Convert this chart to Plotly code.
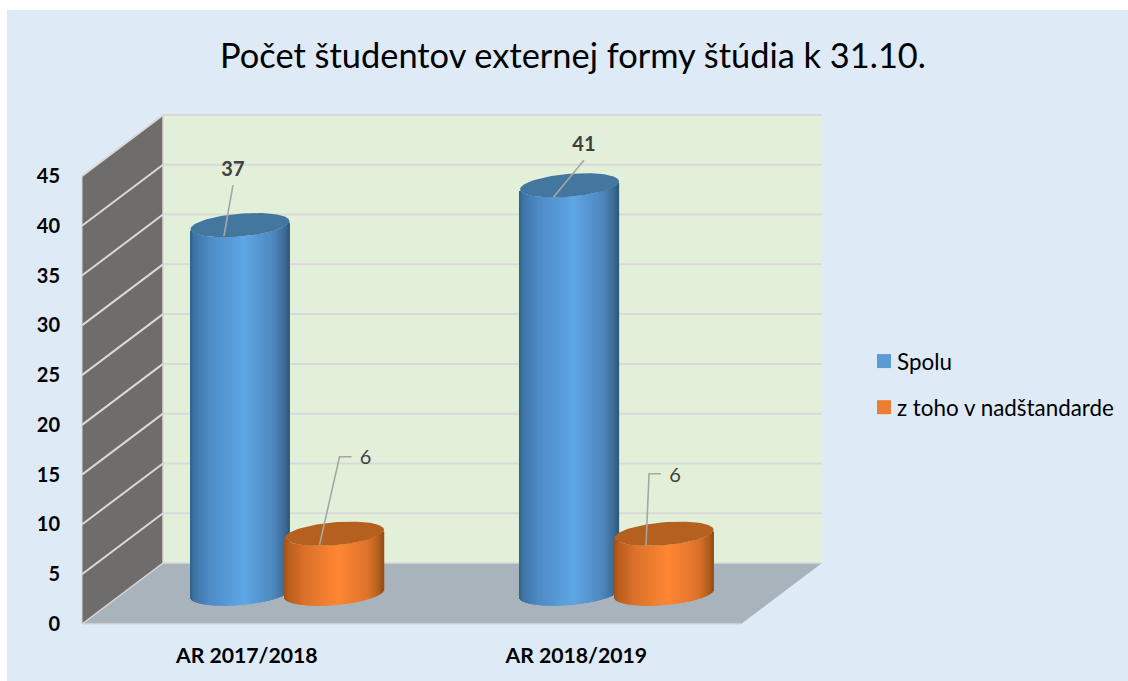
import math
import plotly.graph_objects as go

# ---- data ----
categories = ["AR 2017/2018", "AR 2018/2019"]
spolu = [37, 41]
nadstandard = [6, 6]
series_names = ["Spolu", "z toho v nadštandarde"]
value_ticks = [0, 5, 10, 15, 20, 25, 30, 35, 40, 45]
title_text = "Počet študentov externej formy štúdia k 31.10."

# ---- styles ----
BG = "#DEEAF6"
BACK_WALL = "#E3F0D9"
SIDE_WALL = "#6F6C6C"
FLOOR = "#A9B3BB"
GRID = "#D9D9D9"
LEADER = "#A6A6A6"
LEGEND_COLORS = ["#5B9BD5", "#ED7D31"]
STOPS = [0, .04, .2, .55, .85, .96, 1]
BODY = [
    ["#2F5F86", "#3D74A6", "#4D8BC6", "#5EA6E6", "#4D86BD", "#3C6A92", "#315A7A"],
    ["#9C5217", "#B85D1C", "#DB702A", "#FF8633", "#DD722A", "#B05D1D", "#954D17"],
]
TOPS = ["#44779F", "#B5601F"]
FONT = "Lato"

# ---- layout geometry (pixels) ----
W, H = 1128, 681
L, T = 7, 10
X0, X1 = 82, 741          # front edge of floor
Y0, Y45 = 624, 176        # front value axis
DX, DY = 81, 61           # depth projection
PX_CAT = (X1 - X0) / 2
PX_VAL = (Y0 - Y45) / 45
CYL_DEPTH = 0.5
SERIES_OFFSET = 47.3
HALF_W, ELL_B, ELL_TILT = 49.5, 11.5, 4.0
# label centre + leader points, as pixel offsets from top-ellipse centre
LABELS = [
    [(-7, -54), [(-7, -40), (-16, 11)]],
    [(14.5, -39), [(14.5, -25), (-16, 12)]],
    [(31, -75), [(17, -77), (5, -77), (-15, 11)]],
    [(11, -57), [(-3, -60), (-15, -60), (-18, 11)]],
]


def xd(px):
    return (px - X0) / PX_CAT


def yd(py):
    return (Y0 - py) / PX_VAL


def proj(cat, val, depth=0.0):
    return cat + depth * DX / PX_CAT, val + depth * DY / PX_VAL


def hex2rgb(c):
    return [int(c[i:i + 2], 16) for i in (1, 3, 5)]


def grad(u, cols):
    for i in range(len(STOPS) - 1):
        if u <= STOPS[i + 1]:
            f = (u - STOPS[i]) / (STOPS[i + 1] - STOPS[i])
            a, b = hex2rgb(cols[i]), hex2rgb(cols[i + 1])
            return "rgb(%d,%d,%d)" % tuple(round(a[k] + (b[k] - a[k]) * f) for k in range(3))
    return cols[-1]


fig = go.Figure()

# ---- walls, floor, gridlines ----
def poly(pts, color):
    path = "M " + " L ".join(f"{x},{y}" for x, y in pts) + " Z"
    fig.add_shape(type="path", path=path, fillcolor=color, line_width=0, layer="below", xref="x", yref="y")


def seg(a, b, w=2, color=GRID):
    fig.add_shape(type="line", x0=a[0], y0=a[1], x1=b[0], y1=b[1], line=dict(color=color, width=w),
                  layer="below", xref="x", yref="y")


cat_n = len(categories)
vmax = value_ticks[-1]
poly([proj(0, 0), proj(0, 0, 1), proj(cat_n, 0, 1), proj(cat_n, 0)], FLOOR)
poly([proj(0, 0, 1), proj(0, vmax, 1), proj(cat_n, vmax, 1), proj(cat_n, 0, 1)], BACK_WALL)
poly([proj(0, 0), proj(0, vmax), proj(0, vmax, 1), proj(0, 0, 1)], SIDE_WALL)
for v in value_ticks:
    if v > 0:
        seg(proj(0, v, 1), proj(cat_n, v, 1))
    seg(proj(0, v), proj(0, v, 1), 2 if v else 1.5)
seg(proj(0, 0, 1), proj(cat_n, 0, 1), 1.5)
seg(proj(0, 0), proj(cat_n, 0), 1.5)
seg(proj(0, 0), proj(0, vmax), 1)
seg(proj(0, 0, 1), proj(0, vmax, 1), 1.5)

# ---- cylinders ----
label_i = 0
for s, values in enumerate([spolu, nadstandard]):
    xs, bases, heights, colors = [], [], [], []
    off = (-1 if s == 0 else 1) * SERIES_OFFSET / PX_CAT
    n = round(2 * HALF_W)
    tops = []
    for c, v in enumerate(values):
        cx, cy = proj(c + 0.5 + off, 0, CYL_DEPTH)
        for i in range(n):
            u = (i + 0.5) / n * 2 - 1
            lower = cy + (ELL_TILT * u - ELL_B * math.sqrt(max(0, 1 - u * u))) / PX_VAL
            xs.append(cx + u * HALF_W / PX_CAT)
            bases.append(lower)
            heights.append(v)
            colors.append(grad((u + 1) / 2, BODY[s]))
        tops.append((cx, cy + v))
    fig.add_trace(go.Bar(x=xs, y=heights, base=bases, width=1.4 / PX_CAT,
                         marker=dict(color=colors, line_width=0), showlegend=False, hoverinfo="skip"))
    for cx, cy in tops:
        ex, ey = [], []
        for k in range(121):
            t = 2 * math.pi * k / 120
            ex.append(cx + HALF_W * math.cos(t) / PX_CAT)
            ey.append(cy + (ELL_TILT * math.cos(t) + ELL_B * math.sin(t)) / PX_VAL)
        fig.add_trace(go.Scatter(x=ex, y=ey, mode="lines", fill="toself", fillcolor=TOPS[s],
                                 line=dict(width=0, color=TOPS[s]), showlegend=False, hoverinfo="skip"))
    for c, (cx, cy) in enumerate(tops):
        (lx, ly), pts = LABELS[label_i]
        label_i += 1
        fig.add_trace(go.Scatter(x=[cx + p[0] / PX_CAT for p in pts], y=[cy - p[1] / PX_VAL for p in pts],
                                 mode="lines", line=dict(color=LEADER, width=1.6),
                                 showlegend=False, hoverinfo="skip"))
        fig.add_trace(go.Scatter(x=[cx + lx / PX_CAT], y=[cy - ly / PX_VAL], mode="text",
                                 text=[f"<b>{values[c]}</b>" if s == 0 else str(values[c])],
                                 textposition="middle center",
                                 textfont=dict(family=FONT, size=20, color="#404040"),
                                 showlegend=False, hoverinfo="skip"))

# ---- legend entries ----
for s, name in enumerate(series_names):
    fig.add_trace(go.Scatter(x=[None], y=[None], mode="markers", name=name, legendgroup=name,
                             marker=dict(symbol="square", size=14, color=LEGEND_COLORS[s])))

plot_w, plot_h = W - L, H - T
fig.update_layout(
    width=W, height=H,
    margin=dict(l=L, t=T, r=0, b=0, pad=0, autoexpand=False),
    paper_bgcolor="white", plot_bgcolor=BG,
    barmode="overlay",
    font=dict(family=FONT, color="black"),
    title=dict(text=title_text, x=573 / W, y=1 - 56 / H, xref="container", yref="container",
               xanchor="center", yanchor="middle", font=dict(family=FONT, size=34.4, color="black")),
    legend=dict(x=(857 - L) / plot_w, y=(H - 340) / plot_h, xanchor="left", yanchor="top",
                tracegroupgap=14, bgcolor="rgba(0,0,0,0)", font=dict(family=FONT, size=22.4, color="black"),
                itemsizing="trace"),
    xaxis=dict(range=[xd(L), xd(W)], domain=[0, 1], anchor="free", position=(H - 641) / plot_h,
               tickmode="array", tickvals=[i + 0.5 for i in range(cat_n)], ticktext=categories,
               tickfont=dict(family=FONT, size=21.2, color="black", weight="bold"),
               showgrid=False, zeroline=False, showline=False, ticks=""),
    yaxis=dict(range=[yd(H), yd(T)], domain=[0, 1], anchor="free", position=(60 - L) / plot_w,
               tickmode="array", tickvals=value_ticks, ticktext=[str(v) for v in value_ticks],
               tickfont=dict(family=FONT, size=20, color="black", weight="bold"),
               showgrid=False, zeroline=False, showline=False, ticks=""),
)

fig.write_html(
    "out.html",
    config={"displayModeBar": False},
    post_script="document.body.style.margin='0';"
                "document.querySelectorAll('.legend .legendsymbols').forEach(function(e){"
                "e.setAttribute('transform','translate(7,0)');});",
)
